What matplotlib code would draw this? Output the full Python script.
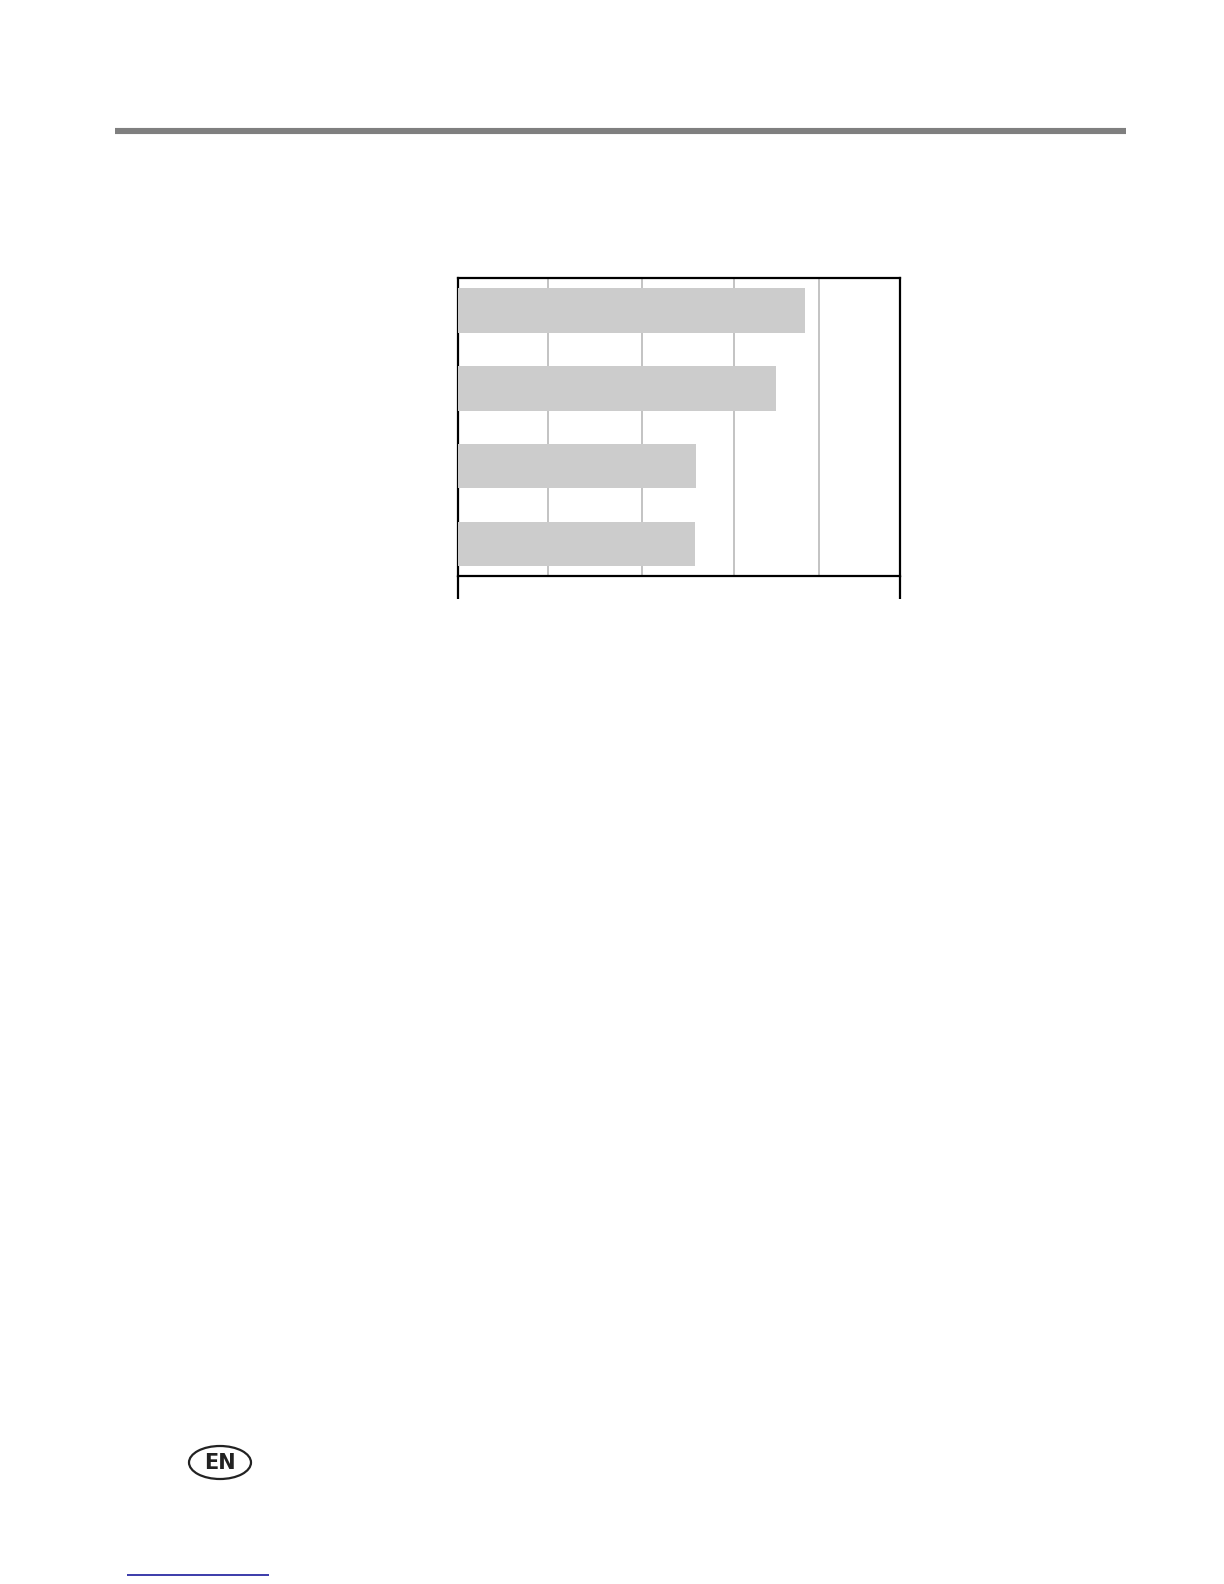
import matplotlib
matplotlib.use('Agg')
from matplotlib import pyplot as plt
from matplotlib.lines import Line2D
from matplotlib.patches import Ellipse
import numpy as np

# bar lengths (scale 0-100 across the frame)
rows = ['row 1', 'row 2', 'row 3', 'row 4']
values = [78.6, 72.0, 54.0, 53.7]
grid_ticks = [20.5, 41.8, 62.4, 81.8]

W, H = 1224, 1584
fig = plt.figure(figsize=(W / 100, H / 100), dpi=100)
fig.patch.set_facecolor('white')


def fx(x):
    return x / W


def fy(y):
    return 1 - y / H


# grey rule at the top of the page
fig.add_artist(Line2D([fx(115), fx(1126)], [fy(131), fy(131)],
                      color='#7f7f7f', lw=4.4, solid_capstyle='butt'))

# chart
left, right, top, bottom = 457.5, 900, 277.5, 575.5
ax = fig.add_axes([fx(left), fy(bottom), fx(right - left), (bottom - top) / H])
ypos = np.arange(len(rows))
ax.barh(ypos, values, height=0.573, color='#cccccc', zorder=3)
ax.set_xlim(0, 100)
ax.set_ylim(3.408, -0.425)
ax.set_xticks(grid_ticks)
ax.set_yticks([])
ax.tick_params(length=0, labelbottom=False, labelleft=False)
ax.grid(axis='x', color='#b3b3b3', lw=1.1, zorder=0)
ax.set_axisbelow(True)
for s in ax.spines.values():
    s.set_color('black')
    s.set_linewidth(1.6)

# frame continues below the bottom rule (empty label row)
for x in (left, right):
    fig.add_artist(Line2D([fx(x), fx(x)], [fy(bottom), fy(599)],
                          color='black', lw=1.6, solid_capstyle='butt'))

# EN badge
fig.add_artist(Ellipse((fx(220), fy(1462.5)), 62 / W, 33 / H,
                       fill=False, edgecolor='#222222', lw=1.6))
fig.text(fx(219.5), fy(1463), 'EN', ha='center', va='center',
         fontsize=15, fontweight='bold', color='#222222',
         family=['Liberation Sans Narrow', 'DejaVu Sans'])

# blue link underline at the foot
fig.add_artist(Line2D([fx(127), fx(269)], [fy(1575), fy(1575)],
                      color='#1a1a9c', lw=1.2, solid_capstyle='butt'))

fig.savefig('out.png', dpi=100, facecolor='white')
